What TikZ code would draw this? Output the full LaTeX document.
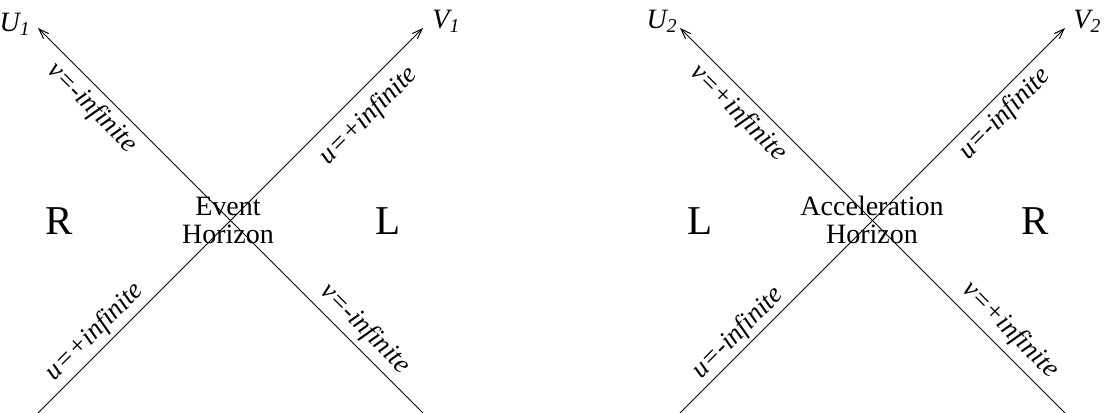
\documentclass[tikz,border=0pt]{standalone}
\usepackage{fontspec}
\setmainfont{Liberation Serif}
\usetikzlibrary{arrows.meta,positioning}
\tikzset{
  ray/.style     ={line width=0.5pt,-{Straight Barb[length=5pt,width=3.6pt]}},
  axlabel/.style ={font=\fontsize{14}{16}\selectfont\itshape,inner sep=0pt},
  infty/.style   ={font=\fontsize{13.5}{15}\selectfont\itshape,inner sep=0pt},
  side/.style    ={font=\fontsize{20.5}{24}\selectfont,inner sep=0pt},
  horizon/.style ={font=\fontsize{14}{14}\selectfont,align=center,inner sep=0pt},
}

\begin{document}
\begin{tikzpicture}[x=0.5pt,y=-0.5pt]
        \useasboundingbox (0,0) rectangle (1105,413);
        % event horizon
        \coordinate (u1) at (38,28);
        \coordinate (v1) at (423,28);
        \coordinate (a1) at (38,413);
        \coordinate (b1) at (423,413);
        \draw[ray] (b1) -- (u1);
        \draw[ray] (a1) -- (v1);
        \node[axlabel,anchor=base east] (U1) at (31,31) {U\textsubscript{1}};
        \node[axlabel,anchor=base west] (V1) at (432,28) {V\textsubscript{1}};
        \node[infty,rotate=-45] (n1) at (92,108) {v=-infinite};
        \node[infty,rotate=45]  (n2) at (369,116) {u=+infinite};
        \node[infty,rotate=45]  (n3) at (95,332) {u=+infinite};
        \node[infty,rotate=-45] (n4) at (365,329) {v=-infinite};
        \node[side] (R1) at (59,221) {R};
        \node[side] (L1) at (388,221) {L};
        \node[horizon] (eh) at (228,220) {Event\\Horizon};
        % acceleration horizon
        \coordinate (u2) at (680,28);
        \coordinate (v2) at (1065,28);
        \coordinate (a2) at (680,413);
        \coordinate (b2) at (1065,413);
        \draw[ray] (b2) -- (u2);
        \draw[ray] (a2) -- (v2);
        \node[axlabel,anchor=base east] (U2) at (678,28) {U\textsubscript{2}};
        \node[axlabel,anchor=base west] (V2) at (1073,28) {V\textsubscript{2}};
        \node[infty,rotate=-45] (m1) at (738,113) {v=+infinite};
        \node[infty,rotate=45]  (m2) at (1005,114) {u=-infinite};
        \node[infty,rotate=45]  (m3) at (738,333) {u=-infinite};
        \node[infty,rotate=-45] (m4) at (1010,330) {v=+infinite};
        \node[side] (L2) at (700,221) {L};
        \node[side] (R2) at (1035,221) {R};
        \node[horizon] (ah) at (872,220) {Acceleration\\Horizon};
\end{tikzpicture}
\end{document}
